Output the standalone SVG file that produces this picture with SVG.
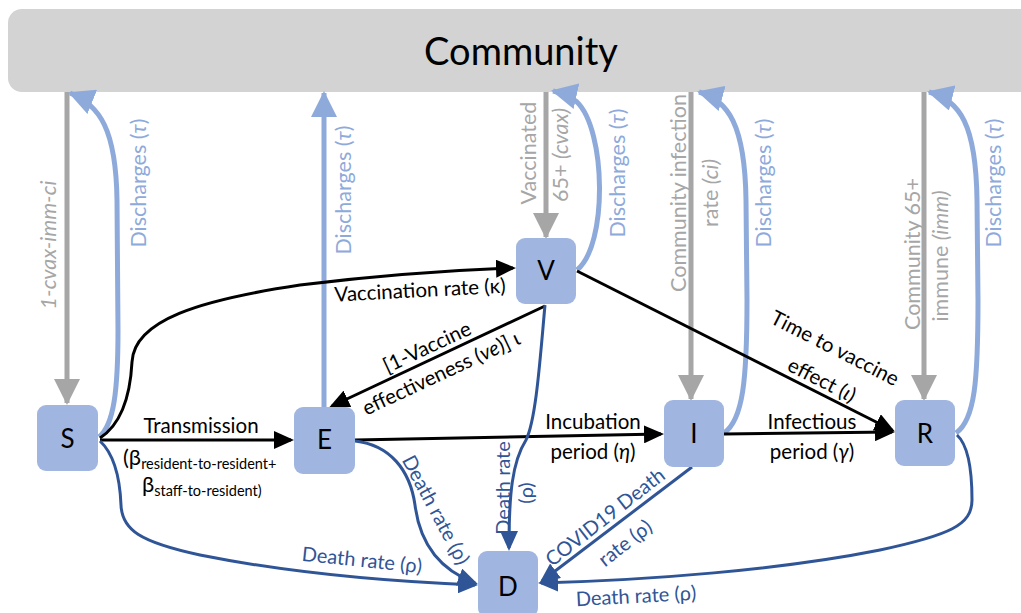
<svg xmlns="http://www.w3.org/2000/svg" width="1021" height="613" viewBox="0 0 1021 613">
<defs>
<style>
text{font-family:Lato,"Liberation Sans",sans-serif;}
.node rect{fill:#a0b6e0;}
.node text{font-size:26px;fill:#000;text-anchor:middle;}
.lbl{font-size:20.5px;fill:#000;text-anchor:middle;}
.gl{font-size:21.5px;fill:#a6a6a6;text-anchor:middle;}
.bl{font-size:21.5px;fill:#8eaadb;text-anchor:middle;}
.dl{font-size:20px;fill:#2f5597;text-anchor:middle;}
.it{font-style:italic;}
.cg{stroke:#a6a6a6;stroke-width:5;fill:none;}
.cl{stroke:#8eaadb;stroke-width:5;fill:none;}
.cb{stroke:#000;stroke-width:3;fill:none;}
.cd{stroke:#2f5597;stroke-width:3;fill:none;}
</style>
<marker id="mb" markerUnits="userSpaceOnUse" markerWidth="20" markerHeight="18" refX="17" refY="9" orient="auto"><path d="M0,0 L20,9 L0,18 z" fill="#000"/></marker>
<marker id="md" markerUnits="userSpaceOnUse" markerWidth="20" markerHeight="18" refX="17" refY="9" orient="auto"><path d="M0,0 L20,9 L0,18 z" fill="#2f5597"/></marker>
<marker id="mg" markerUnits="userSpaceOnUse" markerWidth="26" markerHeight="26" refX="24" refY="13" orient="auto"><path d="M0,0 L26,13 L0,26 z" fill="#a6a6a6"/></marker>
<marker id="ml" markerUnits="userSpaceOnUse" markerWidth="26" markerHeight="26" refX="24" refY="13" orient="auto"><path d="M0,0 L26,13 L0,26 z" fill="#8eaadb"/></marker>
</defs>
<rect width="1021" height="613" fill="#fff"/>
<g id="community">
<rect x="8" y="9" width="1040" height="83" rx="14" fill="#d3d3d3"/>
<text x="521" y="65" font-size="38" text-anchor="middle" fill="#000">Community</text>
</g>
<g id="connectors">
<line class="cg" x1="67" y1="92" x2="67" y2="403" marker-end="url(#mg)"/>
<line class="cg" x1="546" y1="92" x2="546" y2="237" marker-end="url(#mg)"/>
<line class="cg" x1="691" y1="92" x2="691" y2="399" marker-end="url(#mg)"/>
<line class="cg" x1="924" y1="92" x2="924" y2="399" marker-end="url(#mg)"/>
<path class="cl" d="M99,437 C114,425 118,390 118,330 L117,200 C116,130 100,105 70,93" marker-end="url(#ml)"/>
<line class="cl" x1="324" y1="407" x2="324" y2="93" marker-end="url(#ml)"/>
<path class="cl" d="M577,270 C608,245 606,130 577,102 C570,96 562,93 553,91" marker-end="url(#ml)"/>
<path class="cl" d="M724,433 C743,420 747,380 747,300 L746,200 C745,125 728,100 699,92" marker-end="url(#ml)"/>
<path class="cl" d="M956,433 C975,420 978,380 978,300 L977,200 C976,125 960,100 929,92" marker-end="url(#ml)"/>
<line class="cb" x1="100" y1="440" x2="291" y2="440" marker-end="url(#mb)"/>
<path class="cb" d="M100,438 C120,425 130,400 132,362 C134,320 200,300 300,285 C400,273 460,270 513,268" marker-end="url(#mb)"/>
<line class="cb" x1="545" y1="306" x2="332" y2="406" marker-end="url(#mb)"/>
<line class="cb" x1="577" y1="271" x2="892" y2="430" marker-end="url(#mb)"/>
<line class="cb" x1="355" y1="440" x2="661" y2="434" marker-end="url(#mb)"/>
<line class="cb" x1="724" y1="434" x2="892" y2="432" marker-end="url(#mb)"/>
<path class="cd" d="M100,441 C115,455 120,480 121,505 C122,530 140,542 200,555 C300,575 400,582 475,585" marker-end="url(#md)"/>
<path class="cd" d="M355,441 C390,445 410,470 415,505 C420,545 440,570 475,583" marker-end="url(#md)"/>
<path class="cd" d="M545,305 C540,360 536,420 526,440 C512,462 509,495 509,548" marker-end="url(#md)"/>
<line class="cd" x1="692" y1="467" x2="542" y2="581" marker-end="url(#md)"/>
<path class="cd" d="M957,435 C968,445 972,470 972,500 C972,525 950,535 880,550 C780,570 650,580 541,583" marker-end="url(#md)"/>
<text class="gl it" font-size="24" transform="translate(48,245) rotate(-90)" dy=".35em">1-cvax-imm-ci</text>
<text class="gl" transform="translate(528,153) rotate(-90)" dy=".35em">Vaccinated</text>
<text class="gl" transform="translate(560,155) rotate(-90)" dy=".35em">65+ <tspan class="it">(cvax)</tspan></text>
<text class="gl" transform="translate(678,193) rotate(-90)" dy=".35em">Community infection</text>
<text class="gl" transform="translate(710,193) rotate(-90)" dy=".35em">rate <tspan class="it">(ci)</tspan></text>
<text class="gl" transform="translate(912,254) rotate(-90)" dy=".35em">Community 65+</text>
<text class="gl" transform="translate(940,256) rotate(-90)" dy=".35em">immune <tspan class="it">(imm)</tspan></text>
<text class="bl" transform="translate(138,183) rotate(-90)" dy=".35em">Discharges (<tspan class="it">τ</tspan>)</text>
<text class="bl" transform="translate(343,190) rotate(-90)" dy=".35em">Discharges (<tspan class="it">τ</tspan>)</text>
<text class="bl" transform="translate(617,173) rotate(-90)" dy=".35em">Discharges (<tspan class="it">τ</tspan>)</text>
<text class="bl" transform="translate(763,183) rotate(-90)" dy=".35em">Discharges (<tspan class="it">τ</tspan>)</text>
<text class="bl" transform="translate(993,183) rotate(-90)" dy=".35em">Discharges (<tspan class="it">τ</tspan>)</text>
<text class="lbl" x="201" y="433">Transmission</text>
<text x="123" y="465" font-size="22" fill="#000">(β<tspan font-size="14.5" dy="4">resident-to-resident+</tspan></text>
<text x="142" y="492" font-size="22" fill="#000">β<tspan font-size="14.5" dy="4">staff-to-resident)</tspan></text>
<text class="lbl" transform="translate(420,290) rotate(-3)" dy=".35em">Vaccination rate (κ)</text>
<text class="lbl" transform="translate(427,347) rotate(-25)" dy=".35em">[1-Vaccine</text>
<text class="lbl" transform="translate(441,373) rotate(-25)" dy=".35em">effectiveness (<tspan class="it">ve</tspan>)] ι</text>
<text class="lbl" transform="translate(835,348) rotate(27)" dy=".35em">Time to vaccine</text>
<text class="lbl" transform="translate(822,380) rotate(27)" dy=".35em">effect (<tspan class="it">ι</tspan>)</text>
<text class="lbl" x="593" y="429">Incubation</text>
<text class="lbl" x="593" y="459">period (<tspan class="it">η</tspan>)</text>
<text class="lbl" x="812" y="429">Infectious</text>
<text class="lbl" x="812" y="459">period (<tspan class="it">γ</tspan>)</text>
<text class="dl" transform="translate(362,560) rotate(6)" dy=".35em">Death rate (ρ)</text>
<text class="dl" transform="translate(436,510) rotate(62)" dy=".35em">Death rate (ρ)</text>
<text class="dl" transform="translate(503,488) rotate(-90)" dy=".35em">Death rate</text>
<text class="dl" transform="translate(526,493) rotate(-90)" dy=".35em">(ρ)</text>
<text class="dl" transform="translate(605,517) rotate(-38)" dy=".35em">COVID19 Death</text>
<text class="dl" transform="translate(625,543) rotate(-38)" dy=".35em">rate (ρ)</text>
<text class="dl" transform="translate(636,596) rotate(-3)" dy=".35em">Death rate (ρ)</text>
</g>
<g id="S" class="node"><rect x="37" y="405" width="61" height="66" rx="9"/><text x="67.5" y="448">S</text></g>
<g id="E" class="node"><rect x="294" y="407" width="61" height="67" rx="9"/><text x="324.5" y="449">E</text></g>
<g id="V" class="node"><rect x="516" y="238" width="60" height="66" rx="9"/><text x="546" y="280">V</text></g>
<g id="I" class="node"><rect x="664" y="400" width="60" height="67" rx="9"/><text x="694" y="443">I</text></g>
<g id="R" class="node"><rect x="895" y="400" width="60" height="66" rx="9"/><text x="925" y="443">R</text></g>
<g id="D" class="node"><rect x="478" y="551" width="60" height="66" rx="9"/><text x="508" y="596">D</text></g>
</svg>
